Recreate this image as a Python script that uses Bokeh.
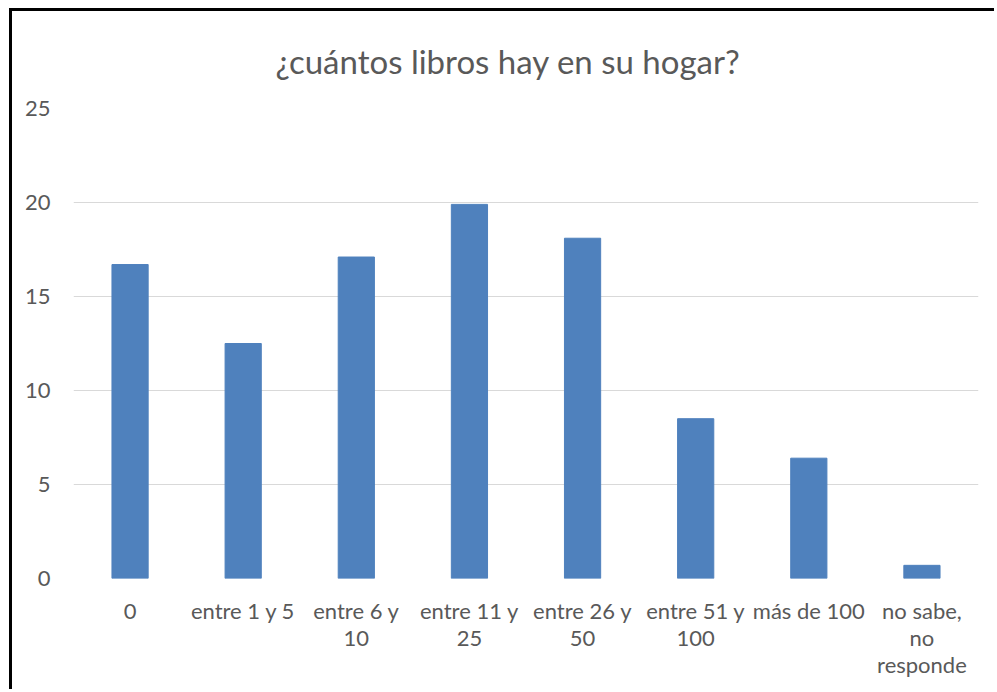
from bokeh.plotting import figure
from bokeh.models import Range1d, FixedTicker, LinearAxis
from bokeh.embed import file_html
from bokeh.resources import INLINE

title = "¿cuántos libros hay en su hogar?"
categories = ["0", "entre 1 y 5", "entre 6 y 10", "entre 11 y 25", "entre 26 y 50",
              "entre 51 y 100", "más de 100", "no sabe, no responde"]
values = [16.7, 12.5, 17.1, 19.9, 18.1, 8.5, 6.4, 0.7]
# wrapped tick labels, one list per text line
line1 = ["0", "entre 1 y 5", "entre 6 y", "entre 11 y", "entre 26 y", "entre 51 y", "más de 100", "no sabe,"]
line2 = ["", "", "10", "25", "50", "100", "", "no"]
line3 = ["", "", "", "", "", "", "", "responde"]
y_ticks = [0, 5, 10, 15, 20, 25]

FONT = "Lato"
TXT = "#595959"
TICK_SIZE = "22px"

pos = list(range(len(categories)))

p = figure(x_range=Range1d(-0.5, len(categories) - 0.5), y_range=Range1d(0, 25),
           width=985, height=681, output_backend="svg", toolbar_location=None,
           x_axis_location=None,
           min_border_left=61, min_border_right=19, min_border_top=97, min_border_bottom=114)
p.vbar(x=pos, top=values, width=0.32, color="#4F81BD")

p.title.text = title
p.title.align = "left"
p.title.offset = 202
p.title.vertical_align = "middle"
p.title.text_font = FONT
p.title.text_font_size = "33px"
p.title.text_font_style = "normal"
p.title.text_color = TXT
p.title.standoff = 54

p.outline_line_color = None
p.xgrid.grid_line_color = None
p.ygrid.grid_line_color = "#D9D9D9"
p.ygrid.grid_line_width = 1

p.yaxis.ticker = FixedTicker(ticks=y_ticks)


def style_axis(ax):
    ax.axis_line_color = None
    ax.major_tick_line_color = None
    ax.minor_tick_line_color = None
    ax.major_tick_out = 0
    ax.major_tick_in = 0
    ax.minor_tick_out = 0
    ax.minor_tick_in = 0
    ax.major_label_text_font = FONT
    ax.major_label_text_font_size = TICK_SIZE
    ax.major_label_text_color = TXT


style_axis(p.yaxis[0])
p.yaxis.major_label_standoff = 23

for i, lines in enumerate((line1, line2, line3)):
    ax = LinearAxis(ticker=FixedTicker(ticks=pos),
                    major_label_overrides={k: t for k, t in zip(pos, lines)})
    style_axis(ax)
    ax.major_label_standoff = 18 if i == 0 else -3
    p.add_layout(ax, "below")

p.styles = {"border-top": "3px solid black", "border-left": "3px solid black",
            "margin-left": "9px", "margin-top": "8px"}

open("out.html", "w").write(file_html(p, INLINE))
